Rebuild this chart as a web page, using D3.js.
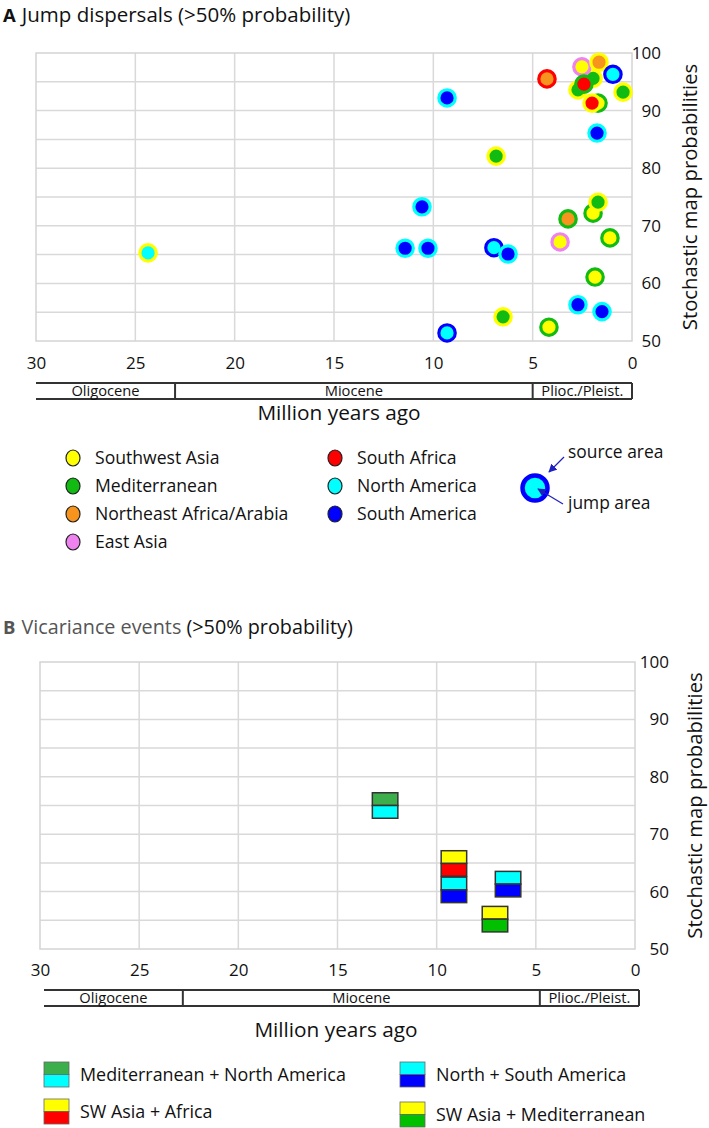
<!DOCTYPE html>
<html>
<head>
<meta charset="utf-8">
<script src="https://cdn.jsdelivr.net/npm/d3@7"></script>
<style>
body{margin:0;background:#fff;}
svg{display:block;font-family:"Open Sans",sans-serif;}
</style>
</head>
<body>
<svg id="chart" width="709" height="1128"></svg>
<script>
// ---------- data ----------
const areaNames  = ["Southwest Asia","Mediterranean","Northeast Africa/Arabia","East Asia","South Africa","North America","South America"];
const areaColors = ["#ffff00","#12bb12","#f7941d","#ee82ee","#ff0000","#00ffff","#0000ff"];

// Jump dispersals: age (Ma), probability (%), jump area (fill), source area (ring)
const jumpAge  = [24.36, 9.31, 6.84, 1.76, 10.57, 11.42, 10.27, 6.95, 6.24, 9.31, 6.49, 4.18, 3.22, 1.96, 1.71, 3.62, 1.11, 1.86, 2.72, 1.51, 4.28, 1.96, 2.52, 1.66, 0.96, 0.45, 2.72, 2.42, 1.71, 2.01];
const jumpProb = [65.3, 92.2, 82.1, 86.1, 73.3, 66.1, 66.1, 66.2, 65.1, 51.4, 54.2, 52.4, 71.2, 72.2, 74.1, 67.2, 67.9, 61.1, 56.3, 55.1, 95.5, 95.6, 97.6, 98.4, 96.3, 93.2, 93.6, 94.6, 91.3, 91.3];
const jumpArea   = ["North America","South America","Mediterranean","South America","South America","South America","South America","North America","South America","North America","Mediterranean","Southwest Asia","Northeast Africa/Arabia","Southwest Asia","Mediterranean","Southwest Asia","Southwest Asia","Southwest Asia","South America","South America","Northeast Africa/Arabia","Mediterranean","Southwest Asia","Northeast Africa/Arabia","North America","Mediterranean","Mediterranean","South Africa","Southwest Asia","South Africa"];
const sourceArea = ["Southwest Asia","North America","Southwest Asia","North America","North America","North America","North America","South America","North America","South America","Southwest Asia","Mediterranean","Mediterranean","Mediterranean","Southwest Asia","East Asia","Mediterranean","Mediterranean","North America","North America","South Africa","Southwest Asia","East Asia","Southwest Asia","South America","Southwest Asia","Southwest Asia","Mediterranean","Mediterranean","Southwest Asia"];

// Vicariance events: age (Ma), probability (%), top / bottom colours
const vicAge    = [12.6, 9.13, 9.13, 6.4, 7.06];
const vicProb   = [75.0, 64.9, 60.3, 61.3, 55.2];
const vicTop    = ["#3cae4c","#ffff00","#00ffff","#00ffff","#ffff00"];
const vicBottom = ["#00ffff","#ff0000","#0000ff","#0000ff","#00c000"];

const vicLegendNames  = ["Mediterranean + North America","SW Asia + Africa","North + South America","SW Asia + Mediterranean"];
const vicLegendTop    = ["#3cae4c","#ffff00","#00ffff","#ffff00"];
const vicLegendBottom = ["#00ffff","#ff0000","#0000ff","#00c000"];

const xTicks = [30,25,20,15,10,5,0];
const yTicks = [50,60,70,80,90,100];
const yGrid  = [55,60,65,70,75,80,85,90,95];
const xGrid  = [25,20,15,10,5];

const epochNames = ["Oligocene","Miocene","Plioc./Pleist."];
const epochStart = [30, 23, 5];
const epochEnd   = [23, 5, 0];

// ---------- drawing ----------
const svg = d3.select("#chart");
const colorOf = name => areaColors[areaNames.indexOf(name)];

function drawFrame(p) {
  const g = svg.append("g");
  const x = d3.scaleLinear().domain([30, 0]).range([p.left, p.right]);
  const y = d3.scaleLinear().domain([50, 100]).range([p.bottom, p.top]);

  // grid
  g.selectAll(".vg").data(xGrid).join("line")
    .attr("x1", d => x(d)).attr("x2", d => x(d))
    .attr("y1", p.top).attr("y2", p.bottom)
    .attr("stroke", "#d9d9d9").attr("stroke-width", 1.5);
  g.selectAll(".hg").data(yGrid).join("line")
    .attr("x1", p.left).attr("x2", p.right)
    .attr("y1", d => y(d)).attr("y2", d => y(d))
    .attr("stroke", "#d9d9d9").attr("stroke-width", 1.5);
  g.append("rect").attr("x", p.left).attr("y", p.top)
    .attr("width", p.right - p.left).attr("height", p.bottom - p.top)
    .attr("fill", "none").attr("stroke", "#d4d4d4").attr("stroke-width", 1.5);

  // x axis labels
  const xa = g.append("g").attr("transform", `translate(0,${p.xTickY})`)
    .call(d3.axisBottom(x).tickValues(xTicks).tickSize(0).tickPadding(0).tickFormat(d3.format("d")));
  xa.select(".domain").remove();
  xa.selectAll("text").attr("font-size", 17).attr("fill", "#111")
    .attr("font-family", "Open Sans").attr("dy", "0.35em").attr("y", 0);

  // y axis labels (right side)
  const ya = g.append("g").attr("transform", `translate(${p.yLabelX},0)`)
    .call(d3.axisRight(y).tickValues(yTicks).tickSize(0).tickPadding(0));
  ya.select(".domain").remove();
  ya.selectAll("text").attr("font-size", 17).attr("fill", "#111")
    .attr("font-family", "Open Sans").attr("text-anchor", "end").attr("x", 0);

  // y title
  g.append("text").attr("transform", `translate(${p.yTitleX},${(p.top + p.bottom) / 2}) rotate(-90)`)
    .attr("text-anchor", "middle").attr("dy", "0.35em")
    .attr("font-size", 20.3).attr("fill", "#111").text("Stochastic map probabilities");

  // epoch bar
  const eb = g.append("g").attr("transform", `translate(${p.epochDx},0)`);
  eb.append("line").attr("x1", x(30)).attr("x2", x(0)).attr("y1", p.epochTop).attr("y2", p.epochTop)
    .attr("stroke", "#333").attr("stroke-width", 2);
  eb.append("line").attr("x1", x(30)).attr("x2", x(0)).attr("y1", p.epochBottom).attr("y2", p.epochBottom)
    .attr("stroke", "#333").attr("stroke-width", 2);
  eb.selectAll(".div").data(epochEnd).join("line")
    .attr("x1", d => x(d)).attr("x2", d => x(d))
    .attr("y1", p.epochTop).attr("y2", p.epochBottom)
    .attr("stroke", "#333").attr("stroke-width", 2);
  eb.selectAll(".en").data(epochNames).join("text")
    .attr("x", (d, i) => (x(epochStart[i]) + x(epochEnd[i])) / 2)
    .attr("y", (p.epochTop + p.epochBottom) / 2).attr("dy", "0.35em")
    .attr("text-anchor", "middle").attr("font-size", 14.7).attr("fill", "#111").text(d => d);

  // x title
  g.append("text").attr("x", p.xTitleX).attr("y", p.xTitleY).attr("dy", "0.35em")
    .attr("text-anchor", "middle").attr("font-size", 20.8).attr("fill", "#111").text("Million years ago");

  return {g, x, y};
}

// ---------- Panel A ----------
const tA = svg.append("text").attr("x", 3).attr("y", 22).attr("font-size", 20.5).attr("fill", "#111");
tA.append("tspan").attr("font-weight", "bold").attr("font-size", 18.5).text("A");
tA.append("tspan").attr("dx", 6).text("Jump dispersals (>50% probability)");

const A = drawFrame({left: 36, right: 632, top: 53, bottom: 341, xTickY: 363, yLabelX: 661,
  yTitleX: 690, epochTop: 383, epochBottom: 399, epochDx: 0, xTitleX: 339, xTitleY: 413});

A.g.selectAll(".pt").data(jumpAge).join("circle")
  .attr("cx", d => A.x(d))
  .attr("cy", (d, i) => A.y(jumpProb[i]))
  .attr("r", 8.2)
  .attr("fill", (d, i) => colorOf(jumpArea[i]))
  .attr("stroke", (d, i) => colorOf(sourceArea[i]))
  .attr("stroke-width", 3.2);

// legend A
const legA = svg.append("g");
const legPosA = [[73,458],[73,486],[73,514],[73,542],[335,458],[335,486],[335,514]];
legA.selectAll("ellipse").data(areaNames).join("ellipse")
  .attr("cx", (d, i) => legPosA[i][0]).attr("cy", (d, i) => legPosA[i][1])
  .attr("rx", 7).attr("ry", 8)
  .attr("fill", (d, i) => areaColors[i]).attr("stroke", "#222").attr("stroke-width", 1.2);
legA.selectAll("text").data(areaNames).join("text")
  .attr("x", (d, i) => legPosA[i][0] + 22).attr("y", (d, i) => legPosA[i][1]).attr("dy", "0.35em")
  .attr("font-size", 17.6).attr("fill", "#111").text(d => d);

// source / jump illustration
const sj = svg.append("g");
svg.append("defs").append("marker").attr("id", "arr").attr("viewBox", "0 0 10 10")
  .attr("refX", 9).attr("refY", 5).attr("markerWidth", 7).attr("markerHeight", 7)
  .attr("orient", "auto")
  .append("path").attr("d", "M0,0 L10,5 L0,10 z").attr("fill", "#2020c0");
sj.append("circle").attr("cx", 535).attr("cy", 488).attr("r", 12.5)
  .attr("fill", "#00ffff").attr("stroke", "#0000ff").attr("stroke-width", 4.5);
sj.append("line").attr("x1", 564).attr("y1", 457).attr("x2", 549).attr("y2", 472)
  .attr("stroke", "#2020c0").attr("stroke-width", 1.2).attr("marker-end", "url(#arr)");
sj.append("line").attr("x1", 563).attr("y1", 504).attr("x2", 538).attr("y2", 489)
  .attr("stroke", "#2020c0").attr("stroke-width", 1.2).attr("marker-end", "url(#arr)");
sj.append("text").attr("x", 568).attr("y", 452).attr("dy", "0.35em").attr("font-size", 17.4).attr("fill", "#111").text("source area");
sj.append("text").attr("x", 568).attr("y", 503).attr("dy", "0.35em").attr("font-size", 17.4).attr("fill", "#111").text("jump area");

// ---------- Panel B ----------
const tB = svg.append("text").attr("x", 3).attr("y", 634).attr("font-size", 19.8);
tB.append("tspan").attr("font-weight", "bold").attr("font-size", 18.5).attr("fill", "#555").text("B");
tB.append("tspan").attr("dx", 6).attr("fill", "#555").text("Vicariance events ");
tB.append("tspan").attr("fill", "#111").text("(>50% probability)");

const B = drawFrame({left: 40, right: 635, top: 662, bottom: 949, xTickY: 970, yLabelX: 669,
  yTitleX: 695, epochTop: 990, epochBottom: 1006, epochDx: 4, xTitleX: 336, xTitleY: 1030});

const sq = 25.5;
const vg = B.g.selectAll(".vic").data(vicAge).join("g")
  .attr("transform", (d, i) => `translate(${B.x(d) - sq / 2},${B.y(vicProb[i]) - sq / 2})`);
vg.append("rect").attr("width", sq).attr("height", sq / 2)
  .attr("fill", (d, i) => vicTop[i]).attr("stroke", "#333").attr("stroke-width", 1.5);
vg.append("rect").attr("y", sq / 2).attr("width", sq).attr("height", sq / 2)
  .attr("fill", (d, i) => vicBottom[i]).attr("stroke", "#333").attr("stroke-width", 1.5);

// legend B
const legPosB = [[44,1062],[44,1099],[400,1062],[400,1102]];
const lb = svg.append("g").selectAll("g").data(vicLegendNames).join("g")
  .attr("transform", (d, i) => `translate(${legPosB[i][0]},${legPosB[i][1]})`);
lb.append("rect").attr("width", 25).attr("height", 12.5).attr("fill", (d, i) => vicLegendTop[i])
  .attr("stroke", "#666").attr("stroke-width", 0.8);
lb.append("rect").attr("y", 12.5).attr("width", 25).attr("height", 12.5).attr("fill", (d, i) => vicLegendBottom[i])
  .attr("stroke", "#666").attr("stroke-width", 0.8);
lb.append("text").attr("x", 36).attr("y", 12.5).attr("dy", "0.35em")
  .attr("font-size", 17.9).attr("fill", "#111").text(d => d);
</script>
</body>
</html>
